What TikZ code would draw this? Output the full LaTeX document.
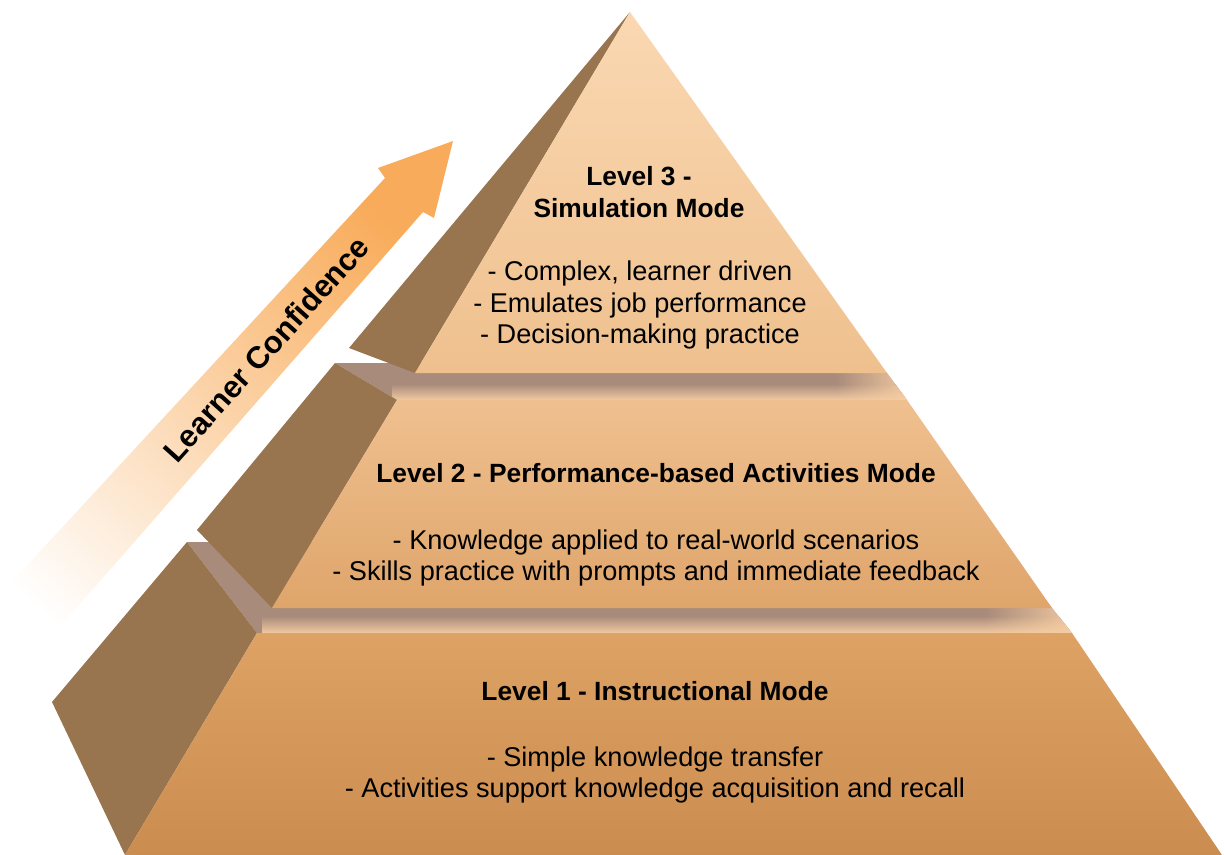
\documentclass[tikz,border=0pt]{standalone}
\usepackage{fontspec}
\setmainfont{Liberation Sans}
\usepackage{tikz}
\usetikzlibrary{fadings}

\definecolor{arrowc}{HTML}{F8AC5B}
\definecolor{arrowmid}{HTML}{FBD3A8}
\definecolor{sidec}{HTML}{98754F}
\definecolor{ledgegray}{HTML}{A98B7B}
\definecolor{ledgelight}{HTML}{F6CDA3}
\definecolor{topA}{HTML}{FAD8B2}
\definecolor{topB}{HTML}{EFC08E}
\definecolor{midA}{HTML}{EFC08F}
\definecolor{midB}{HTML}{DFA56B}
\definecolor{lowA}{HTML}{DEA265}
\definecolor{lowB}{HTML}{CB8C4F}

\begin{document}
\begin{tikzpicture}[x=0.02cm, y=-0.02cm]
        % Setup the styles for faces and texts
        \tikzset{side face/.style={fill=sidec},
                 body text/.style={align=center,
                                   font=\fontsize{15.45}{17.9}\selectfont},
                 title text/.style={body text,
                                    font=\fontsize{15}{17.9}\selectfont\bfseries}}
        \useasboundingbox (0,0) rectangle (1225,855);

        % Draw the confidence arrow
        \begin{scope}
            \clip (0,0) rectangle (1225,855);
            \shade[top color=arrowc, middle color=arrowmid, bottom color=white,
                   shading angle=-42]
                (453,141) -- (434,218) -- (423,212) -- (10,684) -- (-40,638)
                -- (385,178) -- (378,168) -- cycle;
        \end{scope}

        % Level 1: ledge, side and front
        \begin{scope}
            \clip (187,542) -- (1000,542) -- (1052,608) -- (1072,633) -- (257,633) -- cycle;
            \fill[ledgegray] (180,535) rectangle (1080,640);
            \shade[top color=ledgegray, bottom color=ledgelight] (262,616) rectangle (1080,634);
            \fill[ledgelight, path fading=west] (985,535) rectangle (1080,640);
        \end{scope}
        \fill[side face] (187,542) -- (257,633) -- (125,855) -- (52,702) -- cycle;
        \shade[top color=lowA, bottom color=lowB]
            (257,633) -- (1072,633) -- (1222,855) -- (125,855) -- cycle;

        % Level 2: ledge, side and front
        \begin{scope}
            \clip (335,363) -- (875,363) -- (887,373) -- (907,400) -- (397,400) -- cycle;
            \fill[ledgegray] (330,355) rectangle (915,405);
            \shade[top color=ledgegray, bottom color=ledgelight] (392,384) rectangle (915,401);
            \fill[ledgelight, path fading=west] (835,355) rectangle (915,405);
        \end{scope}
        \fill[side face] (335,363) -- (397,400) -- (272,608) -- (197,530) -- cycle;
        \shade[top color=midA, bottom color=midB]
            (397,400) -- (907,400) -- (1052,608) -- (272,608) -- cycle;

        % Level 3: side and front
        \fill[side face] (630,12) -- (415,373) -- (349,348) -- cycle;
        \shade[top color=topA, bottom color=topB]
            (630,12) -- (887,373) -- (415,373) -- cycle;

        % Put the texts
        \node[rotate=48, font=\fontsize{17.6}{20}\selectfont\bfseries]
            (confidence) at (266,349) {Learner Confidence};
        \node[title text] (sim title) at (639,192) {Level 3 -\\Simulation Mode};
        \node[body text]  (sim text)  at (640,305)
            {- Complex, learner driven\\- Emulates job performance\\- Decision-making practice};
        \node[title text] (perf title) at (656,473) {Level 2 - Performance-based Activities Mode};
        \node[body text]  (perf text)  at (656,558)
            {- Knowledge applied to real-world scenarios\\- Skills practice with prompts and immediate feedback};
        \node[title text] (instr title) at (655,691) {Level 1 - Instructional Mode};
        \node[body text]  (instr text)  at (655,775)
            {- Simple knowledge transfer\\- Activities support knowledge acquisition and recall};
\end{tikzpicture}
\end{document}
